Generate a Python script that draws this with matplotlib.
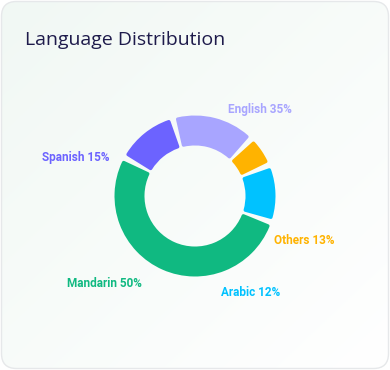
import numpy as np
import matplotlib
matplotlib.use("Agg")
import matplotlib.pyplot as plt
from matplotlib.patches import FancyBboxPatch

languages = ["Mandarin", "Spanish", "English", "Others", "Arabic"]
sizes = [50, 12, 16, 6, 11]
shown_pct = [50, 15, 35, 13, 12]
colors = ["#10b981", "#6c63ff", "#a8a5ff", "#ffb300", "#00c2ff"]

# label placement around the ring: (angle in degrees, distance in px)
label_pos = [(-136, 126), (162, 125), (53, 108), (-22, 118), (-60, 112)]

W, H = 390, 370
cx, cy = 195, 196
r_out, r_in = 80, 51

fig = plt.figure(figsize=(W / 100, H / 100), dpi=100)
fig.patch.set_facecolor("white")
ax = fig.add_axes([0, 0, 1, 1])

# card with soft gradient
card = FancyBboxPatch((1.5, 1.5), W - 3, H - 3, boxstyle="round,pad=0,rounding_size=15",
                      facecolor="none", edgecolor="#e6e8ea", linewidth=1, zorder=3)
ax.add_patch(card)
gx, gy = np.meshgrid(np.linspace(0, 1, 200), np.linspace(0, 1, 200))
t = np.clip((gx + gy) / 2, 0, 1)
c0 = np.array([0.945, 0.973, 0.957])
c1 = np.array([1.0, 1.0, 1.0])
grad = c0[None, None, :] * (1 - t[..., None]) + c1[None, None, :] * t[..., None]
im = ax.imshow(grad, extent=(1.5, W - 1.5, H - 1.5, 1.5), zorder=1, aspect="auto")
im.set_clip_path(card)

ax.text(25, 40, "Language Distribution", fontsize=14, color="#1e1b4b",
        family="Open Sans", va="center", ha="left", zorder=5)

# y axis is flipped (pixel coords), so counter-clockwise in data = clockwise on screen
wedges, _ = ax.pie(sizes, colors=colors, startangle=19, counterclock=True,
                   center=(cx, cy), radius=r_out, frame=True,
                   wedgeprops=dict(width=r_out - r_in, linewidth=0))
ax.set_xlim(0, W)
ax.set_ylim(H, 0)
ax.set_aspect("equal")
ax.axis("off")

lw = 2.5  # rounded corner via round-joined edge
pad = 2.6  # half-gap in px
for w, col in zip(wedges, colors):
    t1, t2 = w.theta1, w.theta2
    rm = (r_out + r_in) / 2
    dpad = np.degrees((pad + lw / 2) / rm)
    w.set_theta1(t1 + dpad)
    w.set_theta2(t2 - dpad)
    w.set_radius(r_out - lw / 2)
    w.set_width(r_out - r_in - lw)
    w.set_edgecolor(col)
    w.set_linewidth(lw)
    w.set_joinstyle("round")
    w.set_zorder(4)

for name, pct, col, (ang, dist) in zip(languages, shown_pct, colors, label_pos):
    x = cx + dist * np.cos(np.radians(ang))
    y = cy - dist * np.sin(np.radians(ang))
    ax.text(x, y, f"{name} {pct}%", color=col, fontsize=8.5, fontweight="bold",
            family="Roboto", ha="center", va="center", zorder=5)

fig.savefig("out.png", dpi=100, facecolor="white")
